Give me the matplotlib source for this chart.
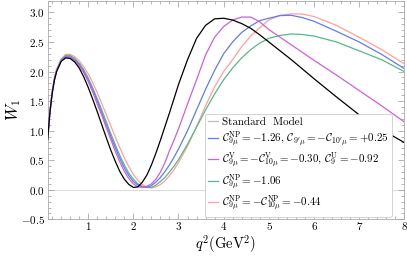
import matplotlib
matplotlib.use("Agg")
import matplotlib.pyplot as plt
from matplotlib.ticker import MultipleLocator

plt.rcParams['font.family'] = 'serif'
plt.rcParams['font.serif'] = ['cmr10']
plt.rcParams['mathtext.fontset'] = 'cm'
plt.rcParams['axes.formatter.use_mathtext'] = True

# q^2 grid (GeV^2)
q2 = [0.1, 0.15, 0.2, 0.25, 0.3, 0.4, 0.5, 0.6, 0.7, 0.8, 0.9, 1.0, 1.1, 1.2, 1.3,
      1.4, 1.5, 1.6, 1.7, 1.8, 1.9, 2.0, 2.1, 2.2, 2.3, 2.4, 2.5, 2.6, 2.7, 2.8,
      2.9, 3.0, 3.2, 3.4, 3.6, 3.8, 4.0, 4.2, 4.4, 4.6, 4.8, 5.0, 5.25, 5.5, 5.75,
      6.0, 6.5, 7.0, 7.5, 8.0]

w1_sm = [0.85, 1.30, 1.62, 1.85, 2.00, 2.17, 2.23, 2.22, 2.16, 2.06, 1.91, 1.73, 1.53, 1.32, 1.10,
         0.88, 0.67, 0.48, 0.31, 0.18, 0.09, 0.04, 0.05, 0.13, 0.25, 0.42, 0.62, 0.84, 1.07, 1.30,
         1.54, 1.78, 2.20, 2.56, 2.78, 2.89, 2.90, 2.87, 2.81, 2.73, 2.62, 2.50, 2.35, 2.20, 2.04,
         1.88, 1.57, 1.27, 1.02, 0.80]

w1_blue = [0.85, 1.31, 1.64, 1.87, 2.02, 2.19, 2.25, 2.25, 2.20, 2.12, 2.00, 1.86, 1.69, 1.50, 1.30,
           1.10, 0.90, 0.71, 0.53, 0.37, 0.24, 0.14, 0.08, 0.05, 0.04, 0.07, 0.13, 0.21, 0.31, 0.42,
           0.55, 0.69, 1.00, 1.35, 1.70, 2.02, 2.30, 2.50, 2.66, 2.77, 2.86, 2.90, 2.945, 2.95, 2.91,
           2.85, 2.68, 2.50, 2.29, 2.05]

w1_magenta = [0.85, 1.30, 1.63, 1.86, 2.01, 2.18, 2.24, 2.24, 2.18, 2.10, 1.98, 1.83, 1.65, 1.45, 1.26,
              1.05, 0.85, 0.65, 0.47, 0.31, 0.19, 0.10, 0.05, 0.04, 0.06, 0.10, 0.18, 0.30, 0.46, 0.66,
              0.84, 1.03, 1.45, 1.86, 2.28, 2.58, 2.76, 2.87, 2.92, 2.92, 2.84, 2.71, 2.58, 2.45, 2.32,
              2.19, 1.94, 1.68, 1.42, 1.15]

w1_green = [0.85, 1.31, 1.65, 1.88, 2.03, 2.20, 2.27, 2.27, 2.22, 2.14, 2.03, 1.89, 1.72, 1.54, 1.35,
            1.15, 0.95, 0.76, 0.58, 0.42, 0.28, 0.18, 0.10, 0.06, 0.04, 0.04, 0.08, 0.14, 0.21, 0.30,
            0.40, 0.51, 0.77, 1.06, 1.35, 1.62, 1.86, 2.06, 2.23, 2.37, 2.48, 2.56, 2.61, 2.635, 2.625,
            2.60, 2.50, 2.35, 2.20, 2.00]

w1_pink = [0.85, 1.31, 1.65, 1.89, 2.04, 2.21, 2.29, 2.29, 2.25, 2.18, 2.08, 1.96, 1.81, 1.64, 1.46,
           1.27, 1.08, 0.89, 0.71, 0.54, 0.39, 0.26, 0.16, 0.09, 0.05, 0.03, 0.05, 0.09, 0.15, 0.24,
           0.34, 0.46, 0.74, 1.07, 1.42, 1.74, 2.00, 2.20, 2.42, 2.60, 2.74, 2.87, 2.95, 2.975, 2.97,
           2.93, 2.78, 2.58, 2.37, 2.13]

labels = [
    'Standard  Model',
    r'$\mathcal{C}_{9\mu}^{\rm NP}=-1.26,\,\mathcal{C}_{9^\prime\mu}=-\mathcal{C}_{10^\prime\mu}=+0.25$',
    r'$\mathcal{C}_{9\mu}^{\rm V}=-\mathcal{C}_{10\mu}^{\rm V}=-0.30,\,\mathcal{C}_{9}^{\rm U}=-0.92$',
    r'$\mathcal{C}_{9\mu}^{\rm NP}=-1.06$',
    r'$\mathcal{C}_{9\mu}^{\rm NP}=-\mathcal{C}_{10\mu}^{\rm NP}=-0.44$',
]
colors = ['#bdbdbd', '#5f7cf5', '#d35fd8', '#55b98a', '#ff9f9f']

fig = plt.figure(figsize=(4.07, 2.56), dpi=100)
ax = fig.add_axes([0.117, 0.143, 0.876, 0.855])

ax.axhline(0, color='#dcdcdc', lw=0.8, zorder=1)

ax.plot(q2, w1_pink, color=colors[4], lw=0.9, zorder=2)
ax.plot(q2, w1_green, color=colors[3], lw=0.9, zorder=2)
ax.plot(q2, w1_blue, color=colors[1], lw=0.9, zorder=3)
ax.plot(q2, w1_magenta, color=colors[2], lw=0.9, zorder=3)
ax.plot(q2, w1_sm, color='black', lw=0.9, zorder=4)

# legend handles (SM shown in light gray as in the original)
handles = [plt.Line2D([], [], color=c, lw=0.9) for c in colors]
leg = ax.legend(handles, labels, loc='lower right', bbox_to_anchor=(0.965, 0.012),
                fontsize=7.9, handlelength=0.9, handletextpad=0.3, labelspacing=0.15,
                borderpad=0.3, borderaxespad=0, framealpha=1, edgecolor='#cccccc',
                fancybox=True)
leg.get_frame().set_linewidth(0.6)

ax.set_xlim(0.1, 8)
ax.set_ylim(-0.5, 3.2)
ax.xaxis.set_major_locator(MultipleLocator(1))
ax.xaxis.set_minor_locator(MultipleLocator(0.2))
ax.yaxis.set_major_locator(MultipleLocator(0.5))
ax.yaxis.set_minor_locator(MultipleLocator(0.1))
ax.tick_params(which='both', direction='in', top=True, right=True, color='#999999',
               labelsize=8, pad=2)
ax.tick_params(which='major', length=4, width=0.5)
ax.tick_params(which='minor', length=2, width=0.5)
for s in ax.spines.values():
    s.set_color('#aaaaaa')
    s.set_linewidth(0.6)

ax.set_xticks([1, 2, 3, 4, 5, 6, 7, 8])
ax.set_xticklabels(['1', '2', '3', '4', '5', '6', '7', '8'])
ax.set_xlabel(r'$q^2(\mathrm{GeV}^2)$', fontsize=10.5, labelpad=1)
ax.set_ylabel(r'$W_1$', fontsize=12)
ax.yaxis.set_label_coords(-0.07, 0.5)

fig.savefig('out.png', dpi=100)
